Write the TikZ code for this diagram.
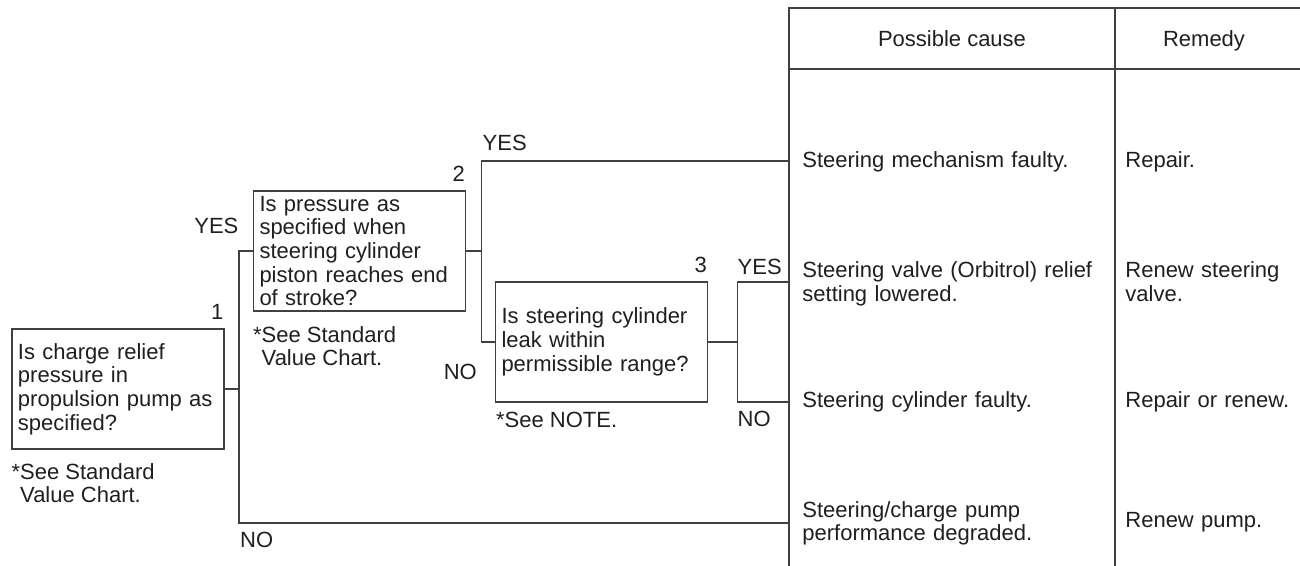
\documentclass[tikz,border=0pt]{standalone}
\usepackage{fontspec}
\setmainfont{Liberation Sans}
\usetikzlibrary{positioning,calc}
\tikzset{
  flowline/.style={line width=0.75pt, draw=black!75},
  qbox/.style={draw=black!75, line width=0.75pt, text width=100pt, inner xsep=3pt, inner ysep=0pt,
    minimum width=106pt, minimum height=60pt, align=left},
  tag/.style={inner sep=0pt},
  cell/.style={inner sep=0pt, align=left, anchor=base west},
}

\begin{document}
\begin{tikzpicture}[
  x=0.5pt, y=-0.5pt,
  font=\fontsize{11}{11.85}\selectfont, text=black!88,
]
  \useasboundingbox (0,0) rectangle (1300,566);
  \node[qbox] (q1) at (118,389) {Is charge relief\\pressure in\\propulsion pump as\\specified?};
  \node[qbox] (q2) at (359.5,251) {Is pressure as\\specified when\\steering cylinder\\piston reaches end\\of stroke?};
  \node[qbox] (q3) at (601.5,342) {Is steering cylinder\\leak within\\permissible range?};
  \node[tag, above left=4pt and 0.5pt of q1.north east] (n1) {1};
  \node[tag, above left=4pt and 0.5pt of q2.north east] (n2) {2};
  \node[tag, above left=4pt and 0.5pt of q3.north east] (n3) {3};
  \node[tag, align=left, below right=6.5pt and 0pt of q1.south west] (s1) {*See Standard\\\phantom{*}Value Chart.};
  \node[tag, align=left, below right=7pt and 0pt of q2.south west] (s2) {*See Standard\\\phantom{*}Value Chart.};
  \node[tag, below right=4.5pt and 0.5pt of q3.south west] (s3) {*See NOTE.};
  % table
  \draw[flowline] (789,566) -- (789,8) -- (1300,8);
  \draw[flowline] (789,69) -- (1300,69);
  \draw[flowline] (1115,8) -- (1115,566);
  \node[tag, anchor=base] (hcause) at (952,47) {Possible cause};
  \node[tag, anchor=base] (hfix) at (1204,47) {Remedy};
  \foreach \i/\yc/\ym/\cause/\fix in {
      1/168/168/{Steering mechanism faulty.}/{Repair.},
      2/278/278/{Steering valve (Orbitrol) relief\\setting lowered.}/{Renew steering\\valve.},
      3/408/408/{Steering cylinder faulty.}/{Repair or renew.},
      4/517/527/{Steering/charge pump\\performance degraded.}/{Renew pump.}}{
    \node[cell, text width=150pt] (c\i) at (802,\yc) {\cause};
    \node[cell, text width=85pt] (m\i) at (1125,\ym) {\fix};
  }
  \coordinate (t1) at (789,161);
  \coordinate (t2) at (789,282);
  \coordinate (t3) at (789,402);
  \coordinate (t4) at (789,523);
  \coordinate (j1) at ($(q1.east)+(7pt,0)$);
  \coordinate (j2) at ($(q2.east)+(7.5pt,0)$);
  \coordinate (j3) at ($(q3.east)+(14.5pt,0)$);
  \draw[flowline] (q1.east) -- (j1);
  \draw[flowline] (q2.west) -| (j1) |- (t4);
  \draw[flowline] (q2.east) -- (j2);
  \draw[flowline] (t1) -| (j2) |- (q3.west);
  \draw[flowline] (q3.east) -- (j3);
  \draw[flowline] (t2) -| (j3) |- (t3);
  \coordinate (k1) at (j1 |- q2.west);
  \coordinate (k2) at (j1 |- t4);
  \coordinate (k3) at (j2 |- t1);
  \coordinate (k4) at (j2 |- q3.west);
  \coordinate (k5) at (j3 |- t2);
  \coordinate (k6) at (j3 |- t3);
  \node[tag, above left=8.5pt and 0pt of k1] (yes1) {YES};
  \node[tag, below right=4.5pt and 0.5pt of k2] (no1) {NO};
  \node[tag, above right=5pt and 0.5pt of k3] (yes2) {YES};
  \node[tag, below left=11pt and 2pt of k4] (no2) {NO};
  \node[tag, above right=3.5pt and 0pt of k5] (yes3) {YES};
  \node[tag, below right=4.5pt and 0pt of k6] (no3) {NO};
\end{tikzpicture}
\end{document}
